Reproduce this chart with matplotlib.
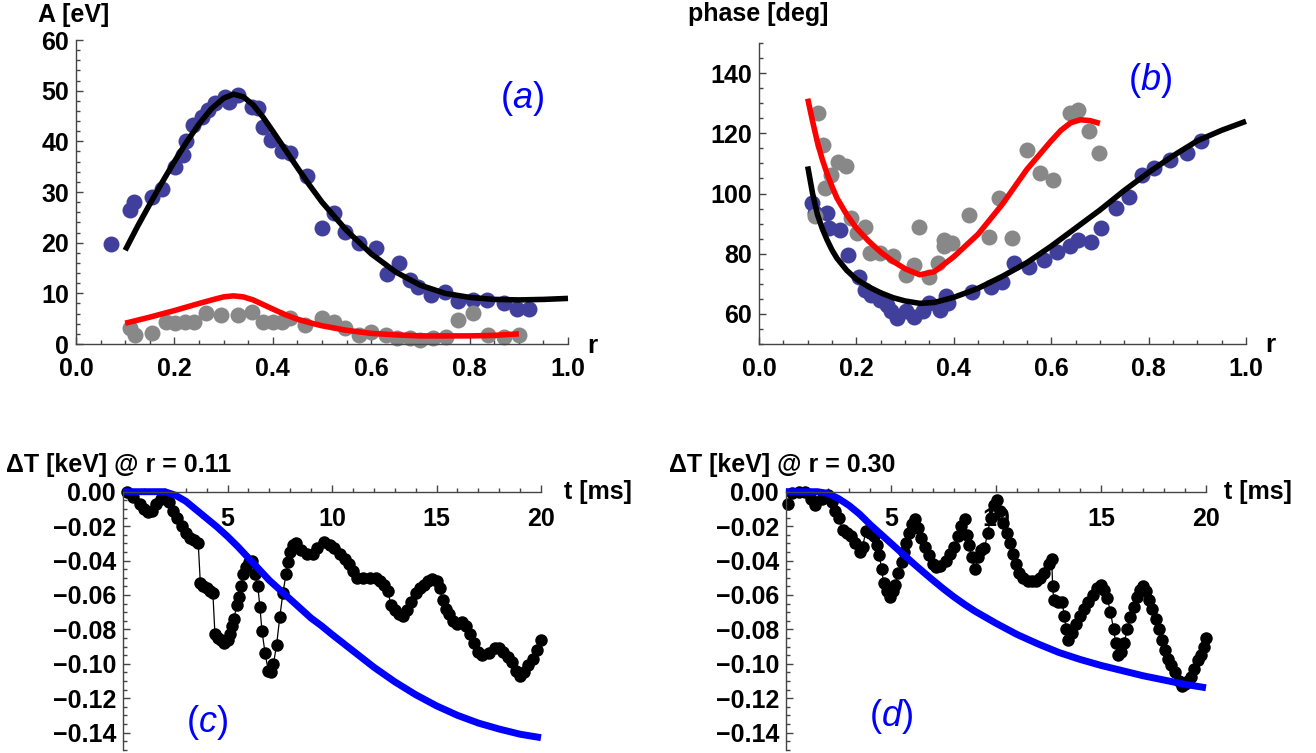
import numpy as np
import matplotlib
matplotlib.use('Agg')
import matplotlib.pyplot as plt
from matplotlib.ticker import MultipleLocator, FixedLocator, FuncFormatter

plt.rcParams['font.family'] = ['Liberation Sans', 'DejaVu Sans']
plt.rcParams['font.weight'] = 'bold'
plt.rcParams['mathtext.fontset'] = 'custom'
plt.rcParams['mathtext.rm'] = 'Liberation Sans:normal'
plt.rcParams['mathtext.it'] = 'Liberation Sans:italic:normal'

# ---- panel (a): amplitude vs r ----
a_blue_r = [0.071, 0.109, 0.118, 0.155, 0.175, 0.202, 0.217, 0.223, 0.237, 0.256, 0.268, 0.283,
            0.303, 0.31, 0.33, 0.357, 0.369, 0.38, 0.396, 0.419, 0.435, 0.47, 0.50, 0.524, 0.547,
            0.575, 0.61, 0.633, 0.656, 0.679, 0.695, 0.722, 0.75, 0.776, 0.807, 0.835, 0.87, 0.897, 0.92]
a_blue_A = [19.7, 26.4, 28.1, 29.1, 30.5, 35.0, 37.3, 40.0, 43.2, 44.9, 46.2, 47.5,
            48.8, 47.8, 49.1, 46.8, 46.5, 42.9, 40.3, 38.0, 37.6, 33.2, 22.8, 25.8, 22.2,
            19.9, 18.9, 13.9, 15.9, 12.6, 11.3, 9.7, 10.3, 8.4, 8.7, 8.7, 8.0, 7.0, 7.0]
a_gray_r = [0.109, 0.12, 0.155, 0.182, 0.202, 0.221, 0.24, 0.264, 0.295, 0.33, 0.357, 0.38, 0.40,
            0.419, 0.435, 0.466, 0.50, 0.524, 0.547, 0.575, 0.60, 0.63, 0.652, 0.679, 0.70, 0.726,
            0.753, 0.776, 0.807, 0.838, 0.87, 0.90]
a_gray_A = [3.1, 1.8, 2.1, 4.4, 4.1, 4.4, 4.4, 6.1, 5.7, 5.7, 6.4, 4.4, 4.4,
            4.4, 5.1, 3.8, 5.1, 4.4, 3.1, 1.8, 2.4, 1.8, 1.1, 1.1, 0.8, 1.1,
            1.4, 4.7, 6.1, 1.8, 1.4, 1.8]
a_fit_r = [0.10, 0.125, 0.15, 0.175, 0.20, 0.225, 0.25, 0.275, 0.30, 0.32, 0.34, 0.36, 0.38,
           0.40, 0.425, 0.45, 0.475, 0.50, 0.55, 0.60, 0.65, 0.70, 0.75, 0.80, 0.85, 0.90,
           0.95, 1.00]
a_fit_black = [18.5, 23.2, 27.6, 31.9, 36.0, 39.9, 43.4, 46.4, 48.5, 49.3, 48.8, 47.2, 44.8,
               42.0, 38.4, 34.8, 31.3, 28.0, 22.4, 17.8, 14.2, 11.6, 10.0, 9.2, 8.8, 8.7,
               8.8, 9.0]
a_red_r = [0.10, 0.15, 0.20, 0.25, 0.28, 0.30, 0.32, 0.34, 0.36, 0.38, 0.40, 0.425, 0.45,
           0.475, 0.50, 0.55, 0.60, 0.65, 0.70, 0.75, 0.80, 0.85, 0.90]
a_fit_red = [4.1, 5.3, 6.6, 8.0, 8.8, 9.3, 9.5, 9.3, 8.7, 7.8, 6.9, 5.8, 4.9,
             4.2, 3.6, 2.7, 2.1, 1.8, 1.6, 1.6, 1.6, 1.7, 2.0]

# ---- panel (b): phase vs r ----
b_blue_r = [0.109, 0.114, 0.14, 0.144, 0.166, 0.183, 0.205, 0.218, 0.231, 0.249, 0.262, 0.271,
            0.284, 0.301, 0.319, 0.336, 0.35, 0.371, 0.384, 0.389, 0.437, 0.476, 0.498, 0.524,
            0.555, 0.585, 0.611, 0.638, 0.655, 0.681, 0.703, 0.734, 0.76, 0.786, 0.812, 0.843,
            0.878, 0.908]
b_blue_ph = [96.8, 93.5, 93.5, 88.5, 87.9, 79.6, 72.4, 68.0, 66.3, 64.7, 63.0, 60.8,
             58.6, 60.8, 59.1, 60.8, 63.5, 61.3, 65.8, 63.5, 67.4, 69.1, 70.7, 76.8,
             75.7, 77.9, 80.7, 82.4, 84.6, 84.0, 88.5, 95.1, 99.0, 106.2, 108.4, 111.2,
             113.4, 117.3]
b_gray_r = [0.114, 0.122, 0.131, 0.135, 0.148, 0.162, 0.179, 0.188, 0.201, 0.218, 0.227, 0.249,
            0.275, 0.301, 0.319, 0.328, 0.349, 0.367, 0.38, 0.38, 0.397, 0.432, 0.472, 0.493,
            0.52, 0.55, 0.576, 0.603, 0.638, 0.655, 0.677, 0.699]
b_gray_ph = [92.4, 126.7, 116.2, 101.8, 106.2, 110.6, 109.0, 91.8, 86.8, 89.0, 80.2, 80.2,
             79.1, 73.0, 76.3, 89.0, 72.4, 76.8, 84.6, 82.4, 83.5, 92.9, 85.7, 98.4,
             85.2, 114.5, 106.8, 104.5, 126.7, 127.8, 120.6, 113.4]
b_black_r = [0.10, 0.11, 0.12, 0.13, 0.14, 0.15, 0.16, 0.18, 0.20, 0.225, 0.25, 0.275, 0.30,
             0.33, 0.36, 0.40, 0.45, 0.50, 0.55, 0.60, 0.65, 0.70, 0.75, 0.80, 0.85, 0.90,
             0.95, 1.00]
b_fit_black = [109, 100, 93, 88.3, 84.5, 81.2, 78.5, 74.5, 71.5, 69.0, 67.0, 65.4, 64.3,
               63.5, 63.8, 65.5, 68.5, 72.5, 77, 82.5, 88.5, 94.5, 101, 107, 112.5, 117.5,
               121, 124]
b_red_r = [0.10, 0.11, 0.12, 0.13, 0.14, 0.15, 0.16, 0.18, 0.20, 0.225, 0.25, 0.275, 0.30,
           0.33, 0.36, 0.40, 0.45, 0.50, 0.55, 0.60, 0.62, 0.64, 0.66, 0.68, 0.70]
b_fit_red = [131.5, 124, 117, 111.3, 106.5, 102.3, 98.5, 93, 88.5, 84.2, 80.5, 77.5, 75,
             73, 74, 79, 86.5, 96.5, 108, 117.5, 121, 123.5, 124.5, 124.2, 123.3]

# ---- panel (c): dT at r = 0.11 ----
c_t = [0.2, 0.5, 0.8, 1.0, 1.2, 1.4, 1.6, 1.8, 2.0, 2.2, 2.4, 2.6, 2.8, 3.0, 3.2, 3.4, 3.6,
       3.7, 3.85, 4.0, 4.15, 4.3, 4.4, 4.55, 4.7, 4.85, 5.0, 5.1, 5.2, 5.3, 5.45, 5.55, 5.65,
       5.75, 5.9, 6.05, 6.15, 6.3, 6.45, 6.55, 6.65, 6.8, 6.95, 7.1, 7.2, 7.35, 7.5, 7.65, 7.8,
       7.9, 8.0, 8.15, 8.3, 8.5, 8.8, 9.1, 9.3, 9.6, 9.9, 10.1, 10.4, 10.6, 10.8, 11.0, 11.2,
       11.5, 11.8, 12.1, 12.3, 12.5, 12.7, 12.8, 13.0, 13.2, 13.4, 13.6, 13.8, 14.0, 14.2,
       14.4, 14.6, 14.8, 15.0, 15.15, 15.3, 15.45, 15.6, 15.8, 16.0, 16.2, 16.4, 16.6, 16.8,
       17.0, 17.2, 17.5, 17.8, 18.0, 18.2, 18.4, 18.6, 18.8, 19.0, 19.2, 19.4, 19.6, 19.8, 20.0]
c_dT = [0.000, -0.003, -0.007, -0.010, -0.012, -0.011, -0.007, -0.004, -0.003, -0.006, -0.011,
        -0.015, -0.020, -0.024, -0.027, -0.028, -0.030,
        -0.053, -0.055, -0.056, -0.058, -0.059, -0.083, -0.085, -0.086, -0.088, -0.086, -0.083,
        -0.078, -0.074, -0.066, -0.061, -0.055, -0.048, -0.044, -0.041, -0.040, -0.048, -0.055,
        -0.067, -0.081, -0.094, -0.104, -0.105, -0.100, -0.089, -0.073, -0.059, -0.048,
        -0.041, -0.035, -0.031, -0.030, -0.034, -0.036, -0.036, -0.033, -0.029, -0.031, -0.033,
        -0.036, -0.039, -0.042, -0.046, -0.050, -0.050, -0.050, -0.050, -0.052, -0.054, -0.058,
        -0.066, -0.069, -0.071, -0.072, -0.069, -0.064, -0.059, -0.056, -0.054, -0.052, -0.051,
        -0.052, -0.056, -0.063, -0.068, -0.071, -0.075, -0.077, -0.076, -0.078, -0.083, -0.088,
        -0.093, -0.095, -0.094, -0.091, -0.091, -0.093, -0.096, -0.099, -0.104, -0.107, -0.105,
        -0.101, -0.097, -0.092, -0.086]
c_fit_t = [0, 1, 2, 2.5, 3, 3.5, 4, 4.5, 5, 5.5, 6, 6.5, 7, 7.5, 8, 8.5, 9, 9.5, 10,
           11, 12, 13, 14, 15, 16, 17, 18, 19, 20]
c_fit = [0, 0, 0, -0.002, -0.0055, -0.0105, -0.0155, -0.0205, -0.026, -0.032, -0.0385,
         -0.045, -0.0515, -0.057, -0.0625, -0.068, -0.0735, -0.078, -0.083,
         -0.0925, -0.102, -0.1105, -0.118, -0.1245, -0.130, -0.1345, -0.138, -0.141, -0.143]

# ---- panel (d): dT at r = 0.30 ----
d_t = [0.1, 0.3, 0.6, 0.9, 1.2, 1.4, 1.7, 2.0, 2.2, 2.35, 2.5, 2.7, 2.9, 3.1, 3.3, 3.5, 3.65,
       3.8, 4.0, 4.2, 4.35, 4.45, 4.55, 4.65, 4.8, 4.95, 5.1, 5.2, 5.35, 5.5, 5.6, 5.7, 5.85,
       6.0, 6.15, 6.3, 6.45, 6.6, 6.8, 7.0, 7.15, 7.35, 7.6, 7.8, 8.0, 8.2, 8.35, 8.5, 8.6,
       8.7, 8.85, 9.0, 9.15, 9.3, 9.45, 9.6, 9.75, 9.9, 10.05, 10.2, 10.35, 10.5, 10.65, 10.8,
       10.95, 11.1, 11.3, 11.5, 11.7, 11.9, 12.1, 12.3, 12.5, 12.65, 12.7, 12.75, 12.95, 13.15,
       13.25, 13.35, 13.45, 13.6, 13.8, 14.0, 14.2, 14.4, 14.6, 14.8, 15.0, 15.15, 15.3, 15.45,
       15.6, 15.7, 15.8, 15.95, 16.1, 16.25, 16.4, 16.55, 16.7, 16.85, 17.0, 17.15, 17.3,
       17.45, 17.6, 17.75, 17.9, 18.05, 18.2, 18.35, 18.5, 18.7, 18.85, 19.0, 19.15, 19.3,
       19.45, 19.6, 19.75, 19.9, 20.0]
d_dT = [-0.007, -0.001, 0.000, 0.000, -0.004, -0.008, -0.004, -0.002, -0.006, -0.011, -0.015,
        -0.022, -0.024, -0.026, -0.030, -0.035, -0.032, -0.023, -0.024, -0.026, -0.031, -0.037,
        -0.045, -0.053, -0.058, -0.061, -0.058, -0.054, -0.047, -0.041, -0.035, -0.030, -0.024,
        -0.019, -0.016, -0.021, -0.027, -0.032, -0.037, -0.042, -0.044, -0.043, -0.040, -0.036,
        -0.032, -0.026, -0.020, -0.016, -0.025, -0.031, -0.038, -0.045, -0.038, -0.034, -0.033,
        -0.024, -0.015, -0.008, -0.005, -0.011, -0.018, -0.024, -0.030, -0.036, -0.042, -0.047,
        -0.050, -0.052, -0.052, -0.052, -0.050, -0.047, -0.042, -0.039, -0.055, -0.063, -0.064,
        -0.064, -0.072, -0.080, -0.086, -0.082, -0.077, -0.072, -0.068, -0.064, -0.060, -0.056,
        -0.054, -0.057, -0.062, -0.070, -0.080, -0.088, -0.095, -0.093, -0.088, -0.080, -0.073,
        -0.067, -0.061, -0.057, -0.055, -0.058, -0.063, -0.068, -0.074, -0.080, -0.086, -0.092,
        -0.097, -0.101, -0.105, -0.110, -0.113, -0.112, -0.110, -0.108, -0.103, -0.098, -0.095,
        -0.090, -0.085]
d_fit_t = [0, 1, 1.5, 2, 2.5, 3, 3.5, 4, 4.5, 5, 5.5, 6, 6.5, 7, 7.5, 8, 8.5, 9, 9.5, 10,
           11, 12, 13, 14, 15, 16, 17, 18, 19, 20]
d_fit = [0, 0, 0, -0.001, -0.004, -0.008, -0.013, -0.019, -0.0245, -0.030, -0.0355, -0.041,
         -0.0463, -0.0515, -0.0565, -0.0612, -0.0655, -0.0695, -0.073, -0.0765,
         -0.083, -0.0885, -0.0935, -0.0975, -0.101, -0.104, -0.107, -0.1095, -0.112, -0.114]

W, H = 1316, 753
FS = 18
AX_COLOR = '#444444'
DOT_BLUE = '#40409c'
DOT_GRAY = '#888888'


def box(left, top, right, bottom):
    # pixel box -> figure fraction
    return [left / W, 1 - bottom / H, (right - left) / W, (bottom - top) / H]


def px(x, y):
    return x / W, 1 - y / H


def minus_fmt(fmt):
    def f(v, pos):
        if abs(v) < 1e-9:
            v = 0.0
        return (fmt % v).replace('-', '\u2212')
    return FuncFormatter(f)


def style(ax, xpad=9):
    for s in ['top', 'right']:
        ax.spines[s].set_visible(False)
    for s in ['left', 'bottom']:
        ax.spines[s].set_color(AX_COLOR)
        ax.spines[s].set_linewidth(1.0)
    ax.tick_params(which='both', direction='in', color=AX_COLOR, labelsize=FS, width=1.0)
    ax.tick_params(which='major', length=5)
    ax.tick_params(which='minor', length=3)
    ax.tick_params(axis='y', which='major', pad=5)
    ax.tick_params(axis='x', which='major', pad=xpad)
    ax.patch.set_alpha(0)


def letter(ax, s, x, y):
    ax.text(x, y, '(' + r'$\mathit{' + s + '}$' + ')', transform=ax.transAxes, fontsize=26,
            color='blue', ha='center', va='center', fontweight='normal')


fig = plt.figure(figsize=(W / 100, H / 100), dpi=100)

# (a)
ax = fig.add_axes(box(76, 40, 568, 344))
style(ax)
ax.plot(a_blue_r, a_blue_A, 'o', color=DOT_BLUE, ms=11.5, mec='none', clip_on=False)
ax.plot(a_gray_r, a_gray_A, 'o', color=DOT_GRAY, ms=11.5, mec='none', clip_on=False)
ax.plot(a_fit_r, a_fit_black, color='black', lw=4, clip_on=False, solid_capstyle='butt')
ax.plot(a_red_r, a_fit_red, color='red', lw=4, clip_on=False, solid_capstyle='butt')
ax.set_xlim(0, 1)
ax.set_ylim(0, 60)
ax.xaxis.set_major_locator(MultipleLocator(0.2))
ax.xaxis.set_minor_locator(MultipleLocator(0.05))
ax.yaxis.set_major_locator(MultipleLocator(10))
ax.yaxis.set_minor_locator(MultipleLocator(2))
ax.xaxis.set_major_formatter(minus_fmt('%.1f'))
ax.yaxis.set_major_formatter(minus_fmt('%d'))
ax.text(1.039, -0.03, 'r', transform=ax.transAxes, fontsize=FS + 1, va='baseline')
letter(ax, 'a', 0.906, 0.806)
fig.text(*px(38, 22), 'A [eV]', fontsize=FS, va='baseline')

# (b)
ax = fig.add_axes(box(759, 43, 1246, 344))
style(ax)
ax.plot(b_blue_r, b_blue_ph, 'o', color=DOT_BLUE, ms=11.5, mec='none', clip_on=False)
ax.plot(b_gray_r, b_gray_ph, 'o', color=DOT_GRAY, ms=11.5, mec='none', clip_on=False)
ax.plot(b_black_r, b_fit_black, color='black', lw=4, clip_on=False, solid_capstyle='butt')
ax.plot(b_red_r, b_fit_red, color='red', lw=4, clip_on=False, solid_capstyle='butt')
ax.set_xlim(0, 1)
ax.set_ylim(50, 150)
ax.xaxis.set_major_locator(MultipleLocator(0.2))
ax.xaxis.set_minor_locator(MultipleLocator(0.05))
ax.yaxis.set_major_locator(MultipleLocator(20))
ax.yaxis.set_minor_locator(MultipleLocator(5))
ax.xaxis.set_major_formatter(minus_fmt('%.1f'))
ax.yaxis.set_major_formatter(minus_fmt('%d'))
ax.text(1.039, -0.027, 'r', transform=ax.transAxes, fontsize=FS + 1, va='baseline')
letter(ax, 'b', 0.803, 0.876)
fig.text(*px(688, 21), 'phase [deg]', fontsize=FS, va='baseline')

# (c) and (d)
panels = [
    (box(123, 491.7, 541, 749.7), c_t, c_dT, c_fit_t, c_fit, 'c', (0.20, 0.107), 1.054, 6, '0.11'),
    (box(786, 491.7, 1206, 749.7), d_t, d_dT, d_fit_t, d_fit, 'd', (0.25, 0.127), 1.043, 669, '0.30'),
]
for rect, t, dT, ft, fv, lt, lpos, tx, lx, rval in panels:
    ax = fig.add_axes(rect)
    style(ax, xpad=11)
    ax.spines['bottom'].set_position(('data', 0))
    ax.plot(t, dT, '-o', color='black', lw=0.9, ms=9, mec='none', clip_on=False)
    ax.plot(ft, fv, color='blue', lw=5, clip_on=False, solid_capstyle='butt')
    ax.set_xlim(0, 20)
    ax.set_ylim(-0.15, 0)
    ax.xaxis.set_major_locator(FixedLocator([5, 10, 15, 20]))
    ax.xaxis.set_minor_locator(MultipleLocator(1))
    ax.yaxis.set_major_locator(MultipleLocator(0.02))
    ax.yaxis.set_minor_locator(MultipleLocator(0.005))
    ax.xaxis.set_major_formatter(minus_fmt('%d'))
    ax.yaxis.set_major_formatter(minus_fmt('%.2f'))
    ax.text(tx, 1.0, 't [ms]', transform=ax.transAxes, fontsize=FS, va='center')
    letter(ax, lt, *lpos)
    fig.text(*px(lx, 471.7), '\u0394T [keV] @ r = ' + rval, fontsize=FS, va='baseline')

fig.savefig('out.png', dpi=100)
